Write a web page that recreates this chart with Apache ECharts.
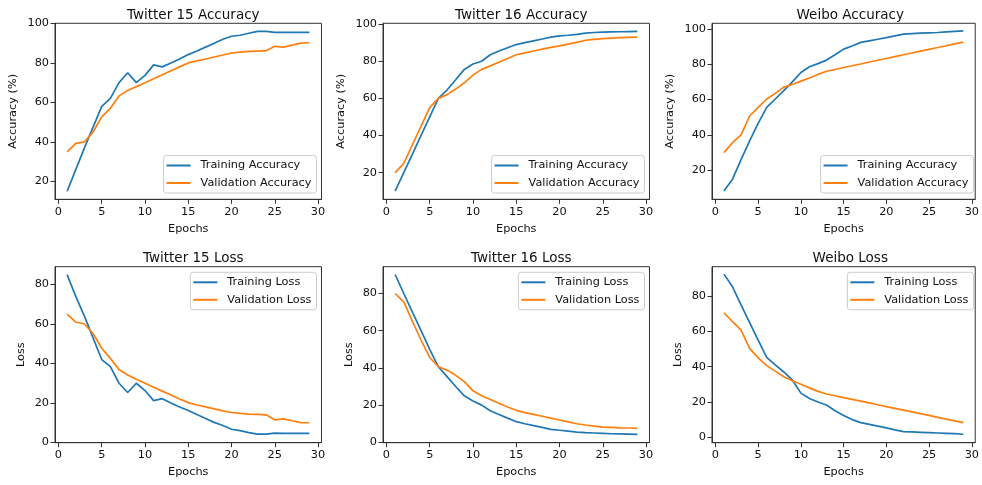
<!DOCTYPE html>
<html>
<head>
<meta charset="utf-8">
<script src="https://cdn.jsdelivr.net/npm/echarts@6/dist/echarts.min.js"></script>
<style>
html,body{margin:0;padding:0;background:#fff;}
#chart{width:982px;height:485px;}
</style>
</head>
<body>
<div id="chart"></div>
<script>
const epochs = [1,2,3,4,5,6,7,8,9,10,11,12,13,14,15,16,17,18,19,20,21,22,23,24,25,26,27,28,29];

const t15TrainAcc = [15,26,37,47.5,58,62,70,75,70,73.7,79,78,80,82,84.2,86,88,90,92,93.5,94,95,96,96,95.5,95.5,95.5,95.5,95.5];
const t15ValAcc   = [35,39.3,40,45,52.7,57,63.3,66,68,70,72,74,76,78,80,81,82,83,84,85,85.5,85.8,86,86.2,88.4,88,89,90,90.2];

const t16TrainAcc = [10,20,30,40,50,60,64.5,70,75.6,78.5,80,83.5,85.5,87.3,89,90,91,92,93,93.7,94,94.5,95.2,95.5,95.7,95.8,95.9,96,96.1];
const t16ValAcc   = [20,25,35,45,55,60,62,65,68.4,72.5,75.6,77.5,79.5,81.5,83.5,84.5,85.5,86.5,87.5,88.3,89.2,90.2,91.3,91.8,92.2,92.5,92.7,92.9,93];

const weiboTrainAcc = [8.3,15,26,36.6,46.5,55.6,60.3,65,70,75.3,78.5,80.3,82.3,85.3,88.5,90.3,92.3,93.2,94.1,95,96,97,97.3,97.5,97.7,97.9,98.2,98.5,98.8];
const weiboValAcc   = [30,35.6,40,50.7,55.6,60.3,63.5,67,68.5,70.4,72.2,74.2,76,77,78.1,79.1,80.1,81.2,82.2,83.2,84.3,85.3,86.3,87.4,88.4,89.4,90.4,91.5,92.5];

const t15TrainLoss = [85,74,64,53,42,38.4,30,25.3,30,26.3,21.2,22.2,20,18,16.2,14.2,12.2,10.2,8.6,6.7,6,5,4.2,4.2,4.7,4.6,4.6,4.6,4.6];
const t15ValLoss   = [65,61,60,55.2,47.7,42.6,37,34.2,32,30,28,26,24,22,20.2,19,18,17,16,15.2,14.7,14.4,14.2,14,11.5,12,11,10.1,10];

const t16TrainLoss = [90.2,80,70,60,50,40.6,35.3,30,25,22.2,20,17,15,13,11.1,10,9,8,7,6.5,6,5.5,5.2,5,4.8,4.6,4.5,4.4,4.3];
const t16ValLoss   = [80,75.5,65,55,45.6,40.6,38.8,36,32.6,27.7,25,23,21,19,17.2,16,15,14,13,12,11,10,9.3,8.7,8.2,8,7.8,7.7,7.5];

const weiboTrainLoss = [92.5,85.3,75,65,55,45.3,41,37,32.5,25,22,20,18.3,15,12.3,10,8.3,7.3,6.3,5.3,4.2,3.2,3,2.8,2.6,2.4,2.2,2,1.7];
const weiboValLoss   = [70.6,65.5,60.7,50.4,45,40.6,37.5,34.3,32,30,28,26,24.5,23.5,22.5,21.5,20.5,19.5,18.4,17.4,16.4,15.4,14.4,13.4,12.4,11.3,10.3,9.3,8.3];

const xTicks = [0,5,10,15,20,25,30];
const accTicks = [20,40,60,80,100];
const lossTicks = [0,20,40,60,80];

const titles = ['Twitter 15 Accuracy','Twitter 16 Accuracy','Weibo Accuracy','Twitter 15 Loss','Twitter 16 Loss','Weibo Loss'];
const trainNames = ['Training Accuracy','Training Accuracy','Training Accuracy','Training Loss','Training Loss','Training Loss'];
const valNames = ['Validation Accuracy','Validation Accuracy','Validation Accuracy','Validation Loss','Validation Loss','Validation Loss'];
const trainData = [t15TrainAcc,t16TrainAcc,weiboTrainAcc,t15TrainLoss,t16TrainLoss,weiboTrainLoss];
const valData = [t15ValAcc,t16ValAcc,weiboValAcc,t15ValLoss,t16ValLoss,weiboValLoss];
const yLabels = ['Accuracy (%)','Accuracy (%)','Accuracy (%)','Loss','Loss','Loss'];
const yLimits = [[10.95,100.05],[5.6,100.45],[3.6,103.1],[-0.1,89],[-0.2,94.4],[-3.1,96.7]];

const BLUE = '#1f77b4', ORANGE = '#ff7f0e';
const FONT = 'DejaVu Sans';
const colLeft = [55, 383, 712];
const gridW = 266.5, gridH = 176;
const rowTop = [23.3, 266.7];

const grids=[], xAxes=[], yAxes=[], series=[], titleOpts=[], legends=[];
for (let i=0;i<6;i++){
  const c=i%3, r=Math.floor(i/3);
  const left=colLeft[c], top=rowTop[r];
  grids.push({left:left, top:top, width:gridW, height:gridH, show:true, borderColor:'#333', borderWidth:1, backgroundColor:'#fff'});
  xAxes.push({
    type:'value', gridIndex:i, min:-0.4, max:30.4,
    name:'Epochs', nameLocation:'middle', nameGap:24,
    nameTextStyle:{fontFamily:FONT, fontSize:11.3, color:'#111'},
    axisLine:{show:true, onZero:false, lineStyle:{color:'#333', width:1}},
    axisTick:{show:true, inside:false, length:4.5, customValues:xTicks, lineStyle:{color:'#333', width:1}},
    axisLabel:{show:true, margin:7, customValues:xTicks, fontFamily:FONT, fontSize:11.3, color:'#111'},
    splitLine:{show:false}
  });
  const yt = r===0 ? accTicks : lossTicks;
  yAxes.push({
    type:'value', gridIndex:i, min:yLimits[i][0], max:yLimits[i][1],
    name:yLabels[i], nameLocation:'middle', nameGap: r===0 ? 36 : 28, nameRotate:90,
    nameTextStyle:{fontFamily:FONT, fontSize:11.3, color:'#111'},
    axisLine:{show:true, onZero:false, lineStyle:{color:'#333', width:1}},
    axisTick:{show:true, inside:false, length:4.5, customValues:yt, lineStyle:{color:'#333', width:1}},
    axisLabel:{show:true, margin:6, customValues:yt, fontFamily:FONT, fontSize:11.3, color:'#111'},
    splitLine:{show:false}
  });
  titleOpts.push({
    text:titles[i], left:left+gridW/2, top: r===0 ? 3.5 : 246.5, textAlign:'center',
    textStyle:{fontFamily:FONT, fontSize:13.5, fontWeight:'normal', color:'#111'}
  });
  const legBox = {
    orient:'vertical', data:[trainNames[i], valNames[i]],
    right: 982 - (left+gridW-5),
    icon:'rect', itemWidth:24, itemHeight:2, itemGap:3.5,
    padding:[3,5,3,3],
    borderColor:'#cccccc', borderWidth:1, borderRadius:3,
    backgroundColor:'rgba(255,255,255,0.8)',
    textStyle:{fontFamily:FONT, fontSize:11.3, color:'#111', lineHeight:14, padding:[0,0,0,5]},
    selectedMode:false
  };
  if (r===0) legBox.top = 155.5; else legBox.top = 272.3;
  legends.push(legBox);
  series.push({
    type:'line', name:trainNames[i], xAxisIndex:i, yAxisIndex:i,
    data: epochs.map((e,k)=>[e, trainData[i][k]]),
    symbol:'none', color:BLUE, lineStyle:{color:BLUE, width:1.7}, z:3
  });
  series.push({
    type:'line', name:valNames[i], xAxisIndex:i, yAxisIndex:i,
    data: epochs.map((e,k)=>[e, valData[i][k]]),
    symbol:'none', color:ORANGE, lineStyle:{color:ORANGE, width:1.7}, z:4
  });
}

const chart = echarts.init(document.getElementById('chart'), null, {renderer:'canvas'});
chart.setOption({
  animation:false,
  backgroundColor:'#fff',
  title:titleOpts,
  legend:legends,
  grid:grids,
  xAxis:xAxes,
  yAxis:yAxes,
  series:series
});
</script>
</body>
</html>
